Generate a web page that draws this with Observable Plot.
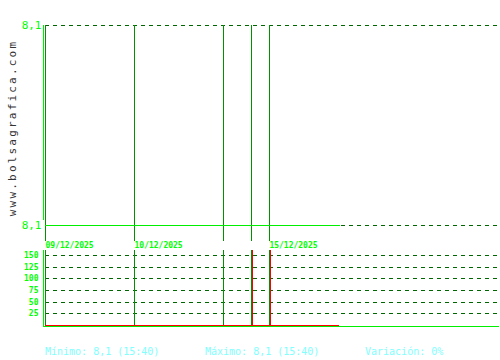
<!DOCTYPE html>
<html>
<head>
<meta charset="utf-8">
<script src="https://cdn.jsdelivr.net/npm/d3@7"></script>
<script src="https://cdn.jsdelivr.net/npm/@observablehq/plot@0.6"></script>
<style>
  html, body { margin: 0; padding: 0; background: #fff; }
  #wrap { position: relative; width: 500px; height: 360px; overflow: hidden; font-family: "DejaVu Sans Mono", monospace; }
  #wrap > div.p { position: absolute; left: 0; }
  .foot { position: absolute; top: 346px; font-size: 10px; color: #80ffff; white-space: pre; }
  #wm { position: absolute; left: 12px; top: 128px; transform: translate(-50%, -50%) rotate(-90deg); font-size: 11px; color: #333; letter-spacing: 2.2px; white-space: nowrap; }
  svg line, svg path { shape-rendering: crispEdges; }
</style>
</head>
<body>
<div id="wrap">
  <div class="p" id="top" style="top:0"></div>
  <div class="p" id="vol" style="top:250px"></div>
  <div id="wm">www.bolsagrafica.com</div>
  <div class="foot" style="left:45px">Mínimo: 8,1 (15:40)</div>
  <div class="foot" style="left:205px">Máximo: 8,1 (15:40)</div>
  <div class="foot" style="left:365px">Variación: 0%</div>
</div>
<script>
// ---- data ----
const slotDomain = [0, 102];                 // intraday slot index across the chart
const dayStarts = [0, 20, 40, 46.3, 50.3];   // slot where each session begins
const dayLabels = ["09/12/2025", "10/12/2025", "11/12/2025", "12/12/2025", "15/12/2025"];
const shownLabels = ["09/12/2025", "10/12/2025", "15/12/2025"];
const priceSlots = [0, 66];
const priceValues = [8.1, 8.1];
const priceTicks = [8.1, 8.1001];
const priceTickLabels = ["8,1", "8,1"];
const volSlots = [46.55, 50.55];
const volValues = [161, 161];
const volTicks = [25, 50, 75, 100, 125, 150];

const BRIGHT = "#00ee00", TEXT = "#00ff00", DARK = "#009000", DASH = "#006600", RED = "#ff0000";

const days = dayStarts.map((s, i) => ({s, label: dayLabels[i]}));
const price = priceSlots.map((s, i) => ({s, v: priceValues[i]}));
const vols = volSlots.map((s, i) => ({s, v: volValues[i]}));

const topPlot = Plot.plot({
  width: 500, height: 250,
  marginLeft: 45, marginRight: 1, marginTop: 25, marginBottom: 9,
  x: {domain: slotDomain, range: [45, 499], axis: null},
  y: {domain: [priceTicks[0], priceTicks[1]], range: [225, 25], axis: null},
  style: {background: "transparent", overflow: "visible"},
  marks: [
    Plot.ruleY(priceTicks, {x1: slotDomain[0], x2: slotDomain[1], stroke: DASH, strokeDasharray: "4,4"}),
    Plot.ruleX(days, {x: "s", stroke: DARK}),
    Plot.ruleX([slotDomain[0]], {dx: -2, stroke: BRIGHT, y1: priceTicks[0], y2: priceTicks[1], insetTop: -5}),
    Plot.line(price, {x: "s", y: "v", stroke: BRIGHT, strokeWidth: 1}),
    Plot.text(priceTicks, {x: slotDomain[0], y: d => d, text: (d, i) => priceTickLabels[i], textAnchor: "end", dx: -4, fill: TEXT, fontSize: 11, fontFamily: "DejaVu Sans Mono"}),
    Plot.text(days.filter(d => shownLabels.includes(d.label)), {x: "s", text: "label", frameAnchor: "bottom", textAnchor: "start", lineAnchor: "middle", dy: 3.5, dx: 0, fill: TEXT, fontSize: 8, fontWeight: "bold", fontFamily: "DejaVu Sans Mono"})
  ]
});
document.getElementById("top").appendChild(topPlot);

const volPlot = Plot.plot({
  width: 500, height: 80,
  marginLeft: 45, marginRight: 1, marginTop: 0, marginBottom: 5,
  x: {domain: slotDomain, range: [45, 499], axis: null},
  y: {domain: [0, 150], range: [75, 5], axis: null},
  style: {background: "transparent", overflow: "visible"},
  marks: [
    Plot.ruleY(volTicks, {x1: slotDomain[0], x2: slotDomain[1], stroke: DASH, strokeDasharray: "4,4"}),
    Plot.ruleX(days, {x: "s", stroke: DARK}),
    Plot.ruleY([0], {x1: priceSlots[0], x2: priceSlots[1], stroke: RED}),
    Plot.ruleX(vols, {x: "s", y1: 0, y2: "v", stroke: RED, strokeWidth: 1.6}),
    Plot.ruleY([0], {x1: slotDomain[0], x2: slotDomain[1], dy: 1, insetLeft: -2, stroke: BRIGHT, strokeWidth: 1.5}),
    Plot.ruleX([slotDomain[0]], {dx: -2, stroke: BRIGHT, insetBottom: -1}),
    Plot.text(volTicks, {x: slotDomain[0], y: d => d, text: d => String(d), textAnchor: "end", dx: -7, fill: TEXT, fontSize: 8, fontWeight: "bold", fontFamily: "DejaVu Sans Mono"})
  ]
});
document.getElementById("vol").appendChild(volPlot);
</script>
</body>
</html>
